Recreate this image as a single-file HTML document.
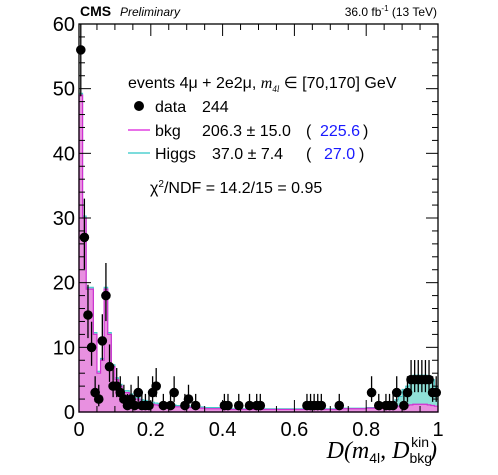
<!DOCTYPE html>
<html><head><meta charset="utf-8"><style>
body{margin:0;background:#fff;}
svg{display:block;font-family:"Liberation Sans",Helvetica,sans-serif;}
</style></head><body>
<svg id="chart" width="498" height="475" viewBox="0 0 498 475" xmlns="http://www.w3.org/2000/svg">
<g id="hists"></g>
<g id="pts"></g>
<g id="axes"></g>
<text x="80" y="16" font-size="14" font-weight="bold">CMS</text>
<text x="120" y="16" font-size="12" font-style="italic">Preliminary</text>
<text x="437" y="16" font-size="12" text-anchor="end">36.0 fb<tspan dy="-5" font-size="8">-1</tspan><tspan dy="5"> (13 TeV)</tspan></text>
<g font-size="16">
<text x="128" y="88">events 4μ + 2e2μ, <tspan font-family="Liberation Serif" font-style="italic">m</tspan><tspan font-size="9" dy="4" font-family="Liberation Serif" font-style="italic">4l</tspan><tspan dy="-4"> ∈ [70,170] GeV</tspan></text>
<circle cx="139" cy="106" r="5" fill="#000"/>
<text x="155" y="112">data</text><text x="202" y="112">244</text>
<line x1="128" y1="130" x2="150" y2="130" stroke="#e040e0" stroke-width="1.5"/>
<text x="155" y="136">bkg</text><text x="202" y="136">206.3 ± 15.0</text><text x="306" y="136">(</text><text x="320" y="136" fill="#1a1aff">225.6</text><text x="363" y="136">)</text>
<line x1="128" y1="153" x2="150" y2="153" stroke="#50d0d0" stroke-width="1.5"/>
<text x="155" y="159">Higgs</text><text x="212" y="159">37.0 ± 7.4</text><text x="306" y="159">(</text><text x="324" y="159" fill="#1a1aff">27.0</text><text x="359" y="159">)</text>
<text x="150" y="193">χ<tspan font-size="10" dy="-6">2</tspan><tspan dy="6">/NDF =  14.2/15 =  0.95</tspan></text>
</g>
<text x="437" y="458" text-anchor="end" font-family="Liberation Serif" font-style="italic" font-size="24">D(m<tspan font-size="14" dy="5" font-style="normal" font-family="Liberation Sans">4l</tspan><tspan dy="-5">, D</tspan><tspan font-size="14" dy="5" font-style="normal" font-family="Liberation Sans">bkg</tspan><tspan font-size="14" dx="-21" dy="-16" font-style="normal" font-family="Liberation Sans">kin</tspan><tspan dy="11">)</tspan></text>
</svg>
<script>
const dataCounts=[56,27,15,10,3,2,11,18,7,4,4,3,2,1,2,1,3,1,1,1,3,4,0,1,0,1,3,0,0,1,2,0,1,0,0,0,0,0,0,0,1,1,0,0,1,0,0,1,0,1,1,0,0,0,0,0,0,0,0,0,0,0,0,1,1,1,1,1,0,0,0,0,1,0,0,0,0,0,0,0,0,3,0,1,0,1,1,1,3,0,1,3,5,5,5,5,5,5,3,3];
const bkgValues=[49,30,19,19,12,6,8,19,12,7,5,4,3,3,2.5,2,2,1.6,1.5,1.3,1.2,1.1,1,1,0.9,0.9,0.8,0.8,0.8,0.7,0.7,0.7,0.6,0.6,0.6,0.5,0.5,0.5,0.5,0.5,0.5,0.4,0.4,0.4,0.4,0.4,0.4,0.4,0.4,0.4,0.4,0.4,0.4,0.4,0.4,0.4,0.4,0.4,0.4,0.4,0.4,0.4,0.4,0.4,0.4,0.4,0.4,0.4,0.4,0.4,0.4,0.4,0.4,0.5,0.5,0.5,0.5,0.5,0.5,0.5,0.6,0.6,0.6,0.6,0.7,0.7,0.8,0.8,0.9,0.9,1,1,1.1,1.2,1.2,1.2,1.2,1.1,1,0.9];
const higgsValues=[0.3,0.3,0.3,0.3,0.3,0.3,0.3,0.3,0.3,0.3,0.3,0.3,0.3,0.3,0.3,0.3,0.3,0.3,0.3,0.3,0.3,0.3,0.3,0.3,0.3,0.3,0.3,0.2,0.2,0.2,0.2,0.2,0.2,0.2,0.2,0.2,0.2,0.2,0.2,0.2,0.1,0.1,0.1,0.1,0.1,0.1,0.1,0.1,0.1,0.1,0.1,0.1,0.1,0.1,0.1,0.1,0.1,0.1,0.1,0.1,0.1,0.1,0.1,0.1,0.1,0.1,0.1,0.1,0.1,0.1,0.1,0.1,0.1,0.1,0.1,0.1,0.1,0.1,0.1,0.1,0.1,0.1,0.1,0.1,0.1,0.3,0.5,0.8,1,1.5,2.5,3,4,4.5,4.5,4.5,4.5,4.5,4,3];
const xTickLabels=["0","0.2","0.4","0.6","0.8","1"];
const yTickLabels=["0","10","20","30","40","50","60"];
const NS="http://www.w3.org/2000/svg";
const X0=79,X1=438,Y0=412,Y1=24,YMAX=60;
const xs=v=>X0+(X1-X0)*v;
const ys=v=>Y0-(Y0-Y1)*Math.min(v,YMAX)/YMAX;
function mk(tag,attrs,parent){const e=document.createElementNS(NS,tag);for(const k in attrs)e.setAttribute(k,attrs[k]);parent.appendChild(e);return e;}
const n=dataCounts.length,bw=1/n;
const H=document.getElementById('hists');
function stepPath(vals,base){let d="M"+xs(0)+","+ys(0);for(let i=0;i<n;i++){const v=vals[i]+(base?base[i]:0);d+=" L"+xs(i*bw)+","+ys(v)+" L"+xs((i+1)*bw)+","+ys(v);}d+=" L"+xs(1)+","+ys(0)+" Z";return d;}
const hp=mk('path',{d:stepPath(higgsValues,bkgValues),fill:"#8fe0d8",stroke:"#40c8c8","stroke-width":1},H);


const bp=mk('path',{d:stepPath(bkgValues),fill:"#e890e0",stroke:"#d030d0","stroke-width":1.2},H);


const P=document.getElementById('pts');
for(let i=0;i<n;i++){const c=dataCounts[i];if(c<=0)continue;const cx=xs((i+0.5)*bw);const s=Math.sqrt(c);
const ln=mk('line',{x1:cx,x2:cx,y1:ys(c+s+0.8),y2:ys(Math.max(c-s+0.3,0)),stroke:"#000","stroke-width":1.3},P);


const ci=mk('circle',{cx:cx,cy:ys(c),r:4.8,fill:"#000"},P);

}
const A=document.getElementById('axes');
mk('rect',{x:X0,y:Y1,width:X1-X0,height:Y0-Y1,fill:"none",stroke:"#000","stroke-width":1.3},A);
for(let k=0;k<=20;k++){const v=k*0.05,x=xs(v),L=(k%4==0)?12:6;
mk('line',{x1:x,x2:x,y1:Y0,y2:Y0-L,stroke:"#000"},A);mk('line',{x1:x,x2:x,y1:Y1,y2:Y1+L,stroke:"#000"},A);}
xTickLabels.forEach((t,i)=>{const tx=mk('text',{x:xs(i*0.2),y:Y0+24,"font-size":20,"text-anchor":"middle"},A);tx.textContent=t;

});
for(let k=0;k<=30;k++){const y=ys(k*2),L=(k%5==0)?12:6;
mk('line',{x1:X0,x2:X0+L,y1:y,y2:y,stroke:"#000"},A);mk('line',{x1:X1,x2:X1-L,y1:y,y2:y,stroke:"#000"},A);}
yTickLabels.forEach((t,i)=>{const tx=mk('text',{x:X0-4,y:ys(i*10)+7,"font-size":20,"text-anchor":"end"},A);tx.textContent=t;

});
</script>
</body></html>
